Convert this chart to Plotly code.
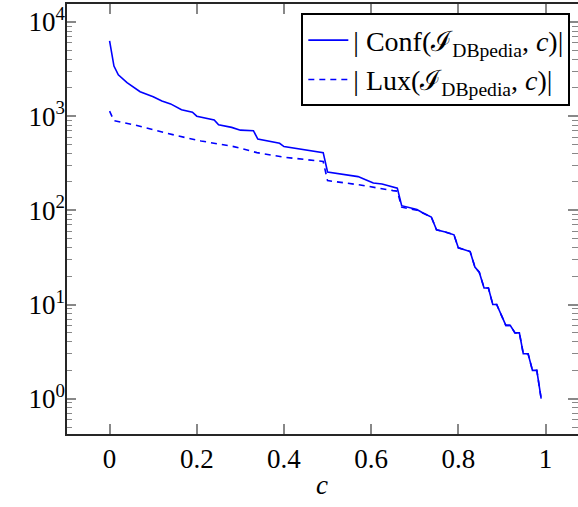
import plotly.graph_objects as go

# Data
conf_c = [0.0, 0.01, 0.02, 0.04, 0.07, 0.10, 0.12, 0.14, 0.165, 0.19, 0.20, 0.24, 0.25, 0.28,
          0.30, 0.33, 0.34, 0.39, 0.40, 0.44, 0.49, 0.50, 0.53, 0.57, 0.59, 0.605, 0.625, 0.66,
          0.67, 0.705, 0.72, 0.738, 0.75, 0.77, 0.79, 0.80, 0.827, 0.838, 0.848, 0.859, 0.869,
          0.879, 0.888, 0.909, 0.919, 0.93, 0.94, 0.949, 0.96, 0.97, 0.98, 0.99]
conf_n = [6300, 3400, 2750, 2270, 1820, 1610, 1450, 1350, 1170, 1100, 1000, 910, 810, 760,
          710, 700, 570, 515, 475, 445, 410, 255, 243, 228, 209, 195, 190, 172,
          112, 102, 93, 85, 62, 59, 55, 40, 36.5, 25, 22, 15, 15,
          10, 10, 6, 6, 5, 5, 3, 3, 2, 2, 1]

lux_c = [0.0, 0.01, 0.056, 0.13, 0.197, 0.21, 0.285, 0.338, 0.40, 0.49, 0.50, 0.575, 0.65,
         0.66, 0.67, 0.705, 0.72, 0.738, 0.75, 0.77, 0.79, 0.80, 0.827, 0.838, 0.848, 0.859,
         0.869, 0.879, 0.888, 0.909, 0.919, 0.93, 0.94, 0.949, 0.96, 0.97, 0.98, 0.99]
lux_n = [1130, 895, 810, 660, 560, 545, 475, 410, 367, 330, 207, 186, 162,
         160, 108, 100, 93, 85, 62, 59, 55, 40, 36.5, 25, 22, 15,
         15, 10, 10, 6, 6, 5, 5, 3, 3, 2, 2, 1]

x_tick_step = 0.2
y_ticks = [1, 10, 100, 1000, 10000]
y_tick_labels = ["10<sup>0</sup>", "10<sup>1</sup>", "10<sup>2</sup>", "10<sup>3</sup>", "10<sup>4</sup>"]

conf_name = "| Conf(\u2110<sub>DBpedia</sub>, <i>c</i>)|"
lux_name = "| Lux(\u2110<sub>DBpedia</sub>, <i>c</i>)|"

FONT = "Liberation Serif"
FS = 27
Y_RANGE = [-0.375, 4.191]

fig = go.Figure()
fig.add_trace(go.Scatter(x=conf_c, y=conf_n, mode="lines", name=conf_name,
                         line=dict(color="#0000ff", width=1.6)))
fig.add_trace(go.Scatter(x=lux_c, y=lux_n, mode="lines", name=lux_name, yaxis="y2",
                         line=dict(color="#0000ff", width=1.6, dash="6px,5px")))

tick_col = "#888888"
clear = "rgba(0,0,0,0)"
fig.update_layout(
    xaxis=dict(range=[-0.1, 1.0745], tickmode="linear", tick0=0, dtick=x_tick_step,
               ticks="inside", ticklen=10, tickwidth=1.5, tickcolor=tick_col,
               showline=True, linecolor="#262626", linewidth=2, mirror="ticks",
               showgrid=False, zeroline=False, automargin=False,
               tickfont=dict(family=FONT, size=FS, color="black"),
               title=dict(text="<i>c</i>", font=dict(family=FONT, size=FS, color="black"),
                          standoff=2)),
    yaxis=dict(type="log", range=Y_RANGE, tickmode="linear", tick0=0, dtick=1,
               ticks="inside", ticklen=10, tickwidth=1.5, tickcolor=tick_col,
               showticklabels=False,
               showline=True, linecolor=clear, linewidth=1, mirror="ticks",
               showgrid=False, zeroline=False, automargin=False,
               minor=dict(ticks="inside", ticklen=6, tickcolor=tick_col, tickwidth=1.3,
                          dtick="D1", showgrid=False)),
    yaxis2=dict(type="log", range=Y_RANGE, overlaying="y", side="left",
                tickmode="array", tickvals=y_ticks, ticktext=y_tick_labels, ticks="",
                showline=False, showgrid=False, zeroline=False, automargin=False,
                tickfont=dict(family=FONT, size=FS, color="black")),
)

fig.add_shape(type="line", xref="paper", yref="paper", x0=0, x1=0, y0=0, y1=1,
              line=dict(color="#262626", width=2))

fig.update_layout(
    width=578, height=507,
    margin=dict(l=66, r=0, t=4, b=73, autoexpand=False),
    plot_bgcolor="white", paper_bgcolor="white",
    showlegend=True,
    legend=dict(x=0.985, y=0.978, xanchor="right", yanchor="top",
                bgcolor="white", bordercolor="black", borderwidth=2,
                font=dict(family=FONT, size=28, color="black"),
                itemwidth=40, tracegroupgap=0),
)

fig.write_html("out.html", config={"displayModeBar": False},
               post_script="document.body.style.margin='0px';document.body.style.overflow='hidden';")
